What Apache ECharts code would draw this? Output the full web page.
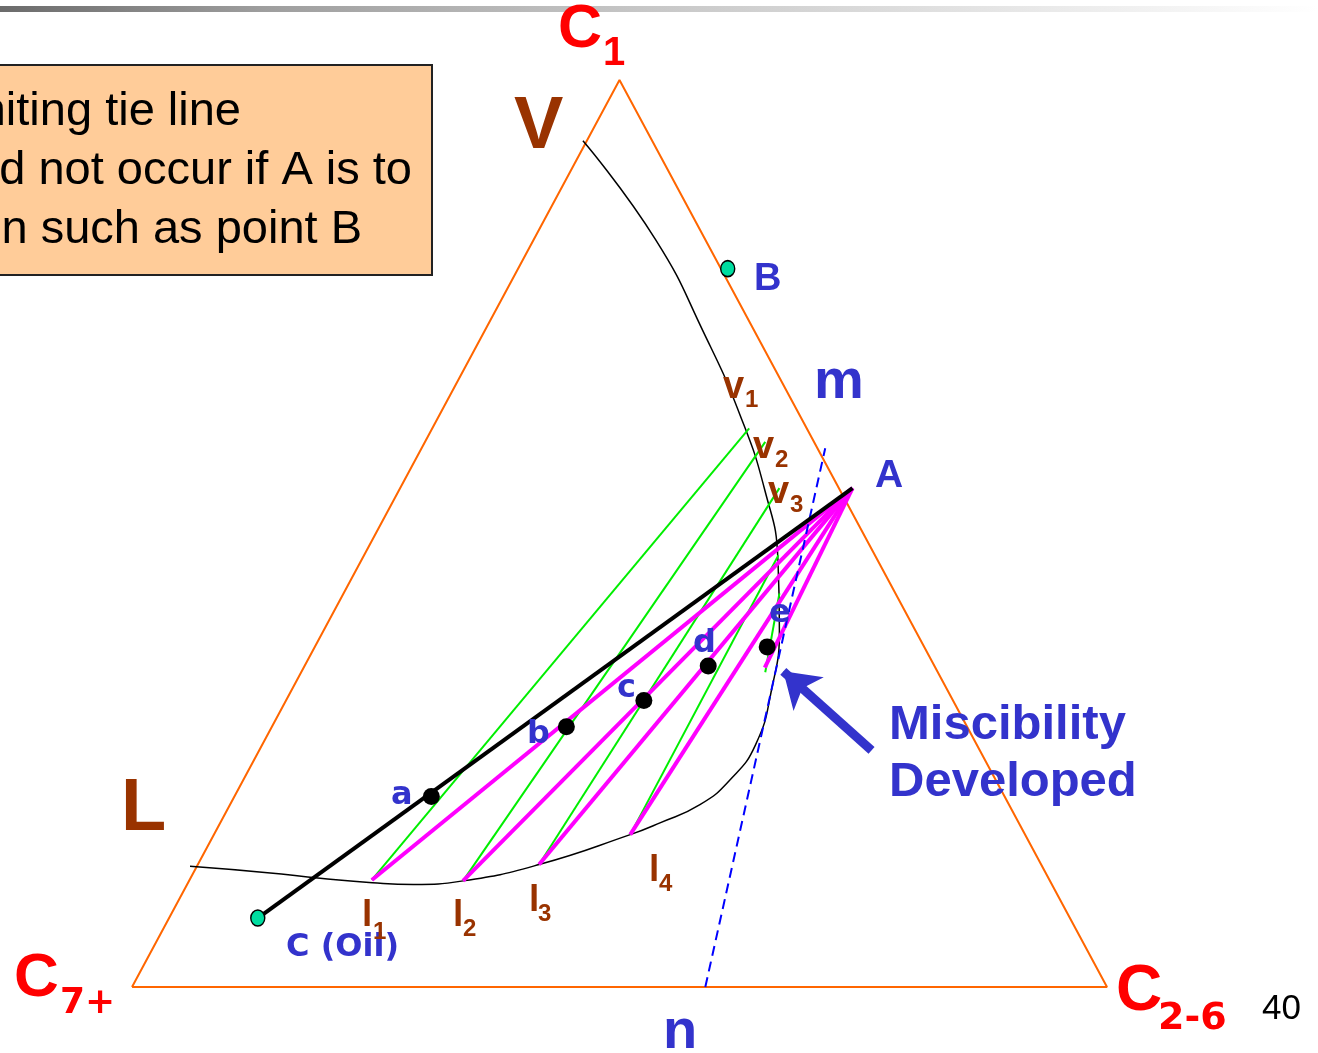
<!DOCTYPE html>
<html>
<head>
<meta charset="utf-8">
<title>Ternary diagram - miscibility developed</title>
<script src="https://cdn.jsdelivr.net/npm/echarts@6/dist/echarts.min.js"></script>
<style>
  html, body { margin: 0; padding: 0; background: #fff; }
  #main { width: 1318px; height: 1053px; }
</style>
</head>
<body>
<div id="main"></div>
<script>
// every point is a composition [C1, C2-6], C7+ is what is left
const corners = [[0, 0], [0, 1], [1, 0], [0, 0]]; // C7+, C2-6, C1
const binodal = [
  [0.933, -0.004], [0.824, 0.125], [0.719, 0.228], [0.631, 0.308], [0.548, 0.375],
  [0.471, 0.427], [0.394, 0.467], [0.328, 0.492], [0.267, 0.506], [0.228, 0.499],
  [0.201, 0.482], [0.181, 0.451], [0.168, 0.427], [0.135, 0.350], [0.117, 0.281],
  [0.113, 0.232], [0.115, 0.189], [0.120, 0.133], [0.126, 0.076], [0.133, -0.007]
];
const liquidEnds = [[0.118, 0.187], [0.117, 0.281], [0.135, 0.350], [0.168, 0.427]];
const vaporEnds = [[0.616, 0.325], [0.601, 0.349], [0.550, 0.389], [0.476, 0.425]];
const nearCritical = [[0.434, 0.447], [0.347, 0.476]];
const mixEnds = [[0.118, 0.187], [0.117, 0.281], [0.135, 0.350], [0.168, 0.427], [0.352, 0.473]];
const injGas = [0.550, 0.464];   // A
const oil = [0.076, 0.091];      // C (Oil)
const gasB = [0.792, 0.215];     // B
const mixNames = ['a', 'b', 'c', 'd', 'e'];
const mixPoints = [[0.210, 0.202], [0.287, 0.302], [0.316, 0.367], [0.354, 0.414], [0.375, 0.464]];
const dilutionLine = [[0.000, 0.588], [0.594, 0.414]]; // n .. m
const arrowPts = [[0.261, 0.628], [0.348, 0.494]];

const toXY = p => [p[1] + p[0] / 2, p[0]];

const chart = echarts.init(document.getElementById('main'));

const lineSeries = (pts, style, z) => ({
  type: 'line',
  data: pts.map(toXY),
  symbol: 'none',
  clip: false,
  silent: true,
  lineStyle: style,
  z: z
});

const green = { color: '#00EE00', width: 2 };

// text helper, y is the baseline
const txt = (x, base, text, size, color, opts = {}) => ({
  type: 'text',
  x: x,
  y: base - 0.35 * size,
  z: 20,
  style: {
    text: text,
    fill: color,
    font: (opts.weight || 'bold') + ' ' + size + 'px ' + (opts.family || '"Liberation Sans", Arial, sans-serif'),
    align: opts.align || 'left',
    verticalAlign: 'middle'
  }
});

const RED = '#FF0000', BROWN = '#993300', BLUE = '#3333CC';
const wide = '"DejaVu Sans", Verdana, sans-serif';

const labels = [
  txt(558, 52, 'C', 61, RED), txt(603, 68, '1', 40, RED),
  txt(514, 153, 'V', 74, BROWN),
  txt(121, 835, 'L', 74, BROWN),
  txt(14, 1001, 'C', 62, RED), txt(60, 1016, '7+', 36, RED, { family: wide }),
  txt(1116, 1015, 'C', 64, RED), txt(1158, 1032, '2-6', 38, RED, { family: wide }),
  txt(663, 1052, 'n', 56, BLUE),
  txt(814, 402, 'm', 56, BLUE),
  txt(875, 490, 'A', 39, BLUE),
  txt(754, 293, 'B', 38, BLUE),
  txt(889, 743, 'Miscibility', 49, BLUE),
  txt(889, 800, 'Developed', 49, BLUE),
  txt(286, 959, 'C (Oil)', 32, BLUE, { family: wide }),
  txt(1262, 1022, '40', 35, '#000', { weight: 'normal' }),
  txt(723, 401, 'v', 38, BROWN), txt(745, 409, '1', 24, BROWN),
  txt(753, 461, 'v', 38, BROWN), txt(775, 469, '2', 24, BROWN),
  txt(768, 506, 'v', 38, BROWN), txt(790, 514, '3', 24, BROWN),
  txt(362, 929, 'l', 37, BROWN), txt(373, 941, '1', 24, BROWN),
  txt(453, 929, 'l', 37, BROWN), txt(463, 938, '2', 24, BROWN),
  txt(529, 914, 'l', 37, BROWN), txt(538, 923, '3', 24, BROWN),
  txt(649, 884, 'l', 37, BROWN), txt(659, 893, '4', 24, BROWN)
];
const mixLabelPos = [[391, 807], [527, 746], [617, 700], [693, 655], [769, 625]];
mixNames.forEach((n, i) => labels.push(txt(mixLabelPos[i][0], mixLabelPos[i][1], n, 32, BLUE, { family: wide })));

const boxLines = [
  txt(241, 128, 'Limiting tie line', 47, '#000', { weight: 'normal', align: 'right' }),
  txt(412, 187, 'would not occur if A is to', 47, '#000', { weight: 'normal', align: 'right' }),
  txt(362, 246, 'in a region such as point B', 47, '#000', { weight: 'normal', align: 'right' })
];

chart.setOption({
  animation: false,
  grid: { left: 132, right: 211, top: 80, bottom: 66 },
  xAxis: { type: 'value', min: 0, max: 1, show: false },
  yAxis: { type: 'value', min: 0, max: 1, show: false },
  graphic: [
    {
      type: 'rect',
      shape: { x: 0, y: 6, width: 1318, height: 6 },
      style: {
        fill: new echarts.graphic.LinearGradient(0, 0, 1, 0, [
          { offset: 0, color: '#6B6B6B' },
          { offset: 0.2, color: '#9E9E9E' },
          { offset: 0.5, color: '#C8C8C8' },
          { offset: 0.8, color: '#EAEAEA' },
          { offset: 1, color: '#FFFFFF' }
        ])
      },
      z: 1
    },
    {
      type: 'rect',
      shape: { x: -5, y: 65, width: 437, height: 210 },
      style: { fill: '#FFCC99', stroke: '#222', lineWidth: 2 },
      z: 1
    },
    ...boxLines,
    ...labels
  ],
  series: [
    lineSeries(corners, { color: '#FF6600', width: 2 }, 1),
    Object.assign(lineSeries(binodal, { color: '#000', width: 1.5 }, 2), { smooth: 0.5 }),
    ...liquidEnds.map((l, i) => lineSeries([l, vaporEnds[i]], green, 3)),
    lineSeries(nearCritical, green, 3),
    ...mixEnds.map(p => lineSeries([injGas, p], { color: '#FF00FF', width: 4 }, 4)),
    lineSeries(dilutionLine, { color: '#0000FF', width: 2, type: [10, 6] }, 4),
    lineSeries([oil, injGas], { color: '#000', width: 4 }, 5),
    {
      type: 'scatter',
      data: mixPoints.map(toXY),
      symbolSize: 17,
      itemStyle: { color: '#000', opacity: 1 },
      z: 6
    },
    {
      type: 'scatter',
      data: [oil, gasB].map(toXY),
      symbolSize: [14, 16],
      itemStyle: { color: '#00DDA0', borderColor: '#000', borderWidth: 1.5, opacity: 1 },
      z: 6
    },
    {
      type: 'lines',
      coordinateSystem: 'cartesian2d',
      data: [{ coords: arrowPts.map(toXY) }],
      symbol: ['none', 'arrow'],
      symbolSize: [30, 34],
      lineStyle: { color: BLUE, width: 9, opacity: 1 },
      z: 6
    }
  ]
});
</script>
</body>
</html>
